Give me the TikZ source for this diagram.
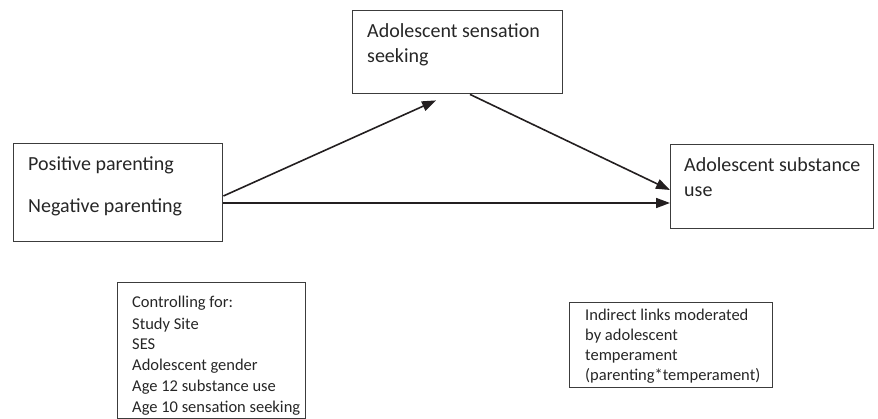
\documentclass[tikz,border=0pt]{standalone}
\usepackage{fontspec}
\setmainfont{Carlito}
\usetikzlibrary{arrows.meta,calc}
\definecolor{boxc}{HTML}{3C3C3C}
\definecolor{linec}{HTML}{231F20}
\definecolor{txtc}{HTML}{262626}
\begin{document}
\begin{tikzpicture}[x=1pt,y=-1pt,
  box/.style={draw=boxc, line width=1.4pt, inner sep=0pt, anchor=north west, text=txtc},
  big/.style={font=\fontsize{20}{25.5}\selectfont, anchor=base west, inner sep=0pt, align=left, text=txtc},
  small/.style={font=\fontsize{16.5}{21}\selectfont, anchor=base west, inner sep=0pt, align=left, text=txtc},
  smalltight/.style={small, font=\fontsize{16.5}{20}\selectfont},
  link/.style={line width=1.6pt, draw=linec, -{Triangle[length=14pt,width=10pt]}}]
\useasboundingbox (0,0) rectangle (878,419);
% boxes
\node[box, minimum width=209pt, minimum height=98pt] (par) at (13,143) {};
\node[box, minimum width=210pt, minimum height=83pt] (sen) at (352,10) {};
\node[box, minimum width=203pt, minimum height=84pt] (use) at (670,144) {};
\node[box, minimum width=188pt, minimum height=136pt] (ctl) at (117,282) {};
\node[box, minimum width=203pt, minimum height=85pt] (ind) at (569,302) {};
% texts (anchored at the baseline of the last line)
\node[big] (partxt) at (28,213) {Positive parenting\\[16.5pt]Negative parenting};
\node[big] (sentxt) at (367,63) {Adolescent sensation\\seeking};
\node[big] (usetxt) at (684,197) {Adolescent substance\\use};
\node[small] (ctltxt) at (132,413) {Controlling for:\\Study Site\\SES\\Adolescent gender\\Age 12 substance use\\Age 10 sensation seeking};
\node[smalltight] (indtxt) at (585,381) {Indirect links moderated\\by adolescent\\temperament\\(parenting*temperament)};
% connector end points
\coordinate (s1) at ($(par.north east)+(0,53)$);
\coordinate (s3) at ($(par.north east)+(0,60)$);
\coordinate (e1) at ($(sen.south west)+(84,6)$);
\coordinate (s2) at ($(sen.south west)+(118,0)$);
\coordinate (e2) at ($(use.north west)+(0,46)$);
\coordinate (e3) at ($(use.north west)+(0,59)$);
\draw[link] (s1) -- (e1);
\draw[link] (s2) -- (e2);
\draw[link] (s3) -- (e3);
\end{tikzpicture}
\end{document}
